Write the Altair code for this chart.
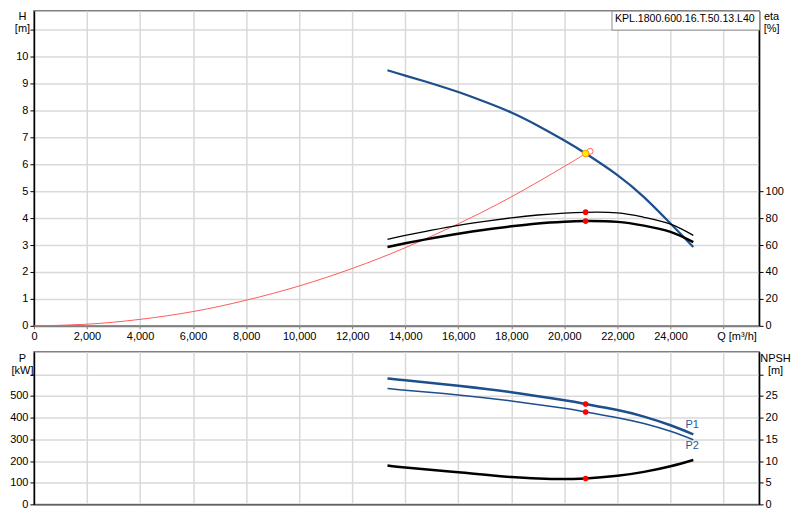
import altair as alt
import pandas as pd

MODEL = "KPL.1800.600.16.T.50.13.L40"

# ---- pump head curve H(Q)
q_h = [13330, 14000, 15000, 16000, 17000, 18000, 19000, 20000, 20800, 22000, 23000, 24000, 24860]
h_vals = [9.49, 9.29, 9.00, 8.68, 8.32, 7.92, 7.43, 6.88, 6.40, 5.60, 4.78, 3.80, 2.93]

# ---- system curve
q_sys = [0, 2000, 4000, 6000, 8000, 10000, 12000, 14000, 16000, 18000, 20000, 20800]
h_sys = [0, 0.06, 0.24, 0.53, 0.95, 1.48, 2.13, 2.90, 3.79, 4.79, 5.92, 6.40]

# ---- efficiency curves
q_eta = [13330, 14000, 15000, 16000, 17000, 18000, 19000, 20000, 20800, 22000, 23000, 24000, 24860]
eta_thin = [64.2, 67.1, 71.0, 74.6, 77.6, 80.2, 82.3, 83.7, 84.3, 83.9, 80.6, 75.5, 67.2]
eta_thick = [58.5, 61.3, 65.0, 68.4, 71.4, 73.9, 76.0, 77.3, 77.8, 77.2, 74.4, 69.8, 62.2]

# ---- power curves
q_p = [13330, 14000, 16000, 18000, 20000, 20800, 22000, 23000, 24000, 24860]
p1 = [581, 573, 547, 517, 480, 463, 435, 405, 365, 323]
p2 = [535, 527, 505, 477, 443, 426, 400, 373, 337, 298]

# ---- NPSH curve
q_npsh = [13330, 14000, 16000, 18000, 19500, 20800, 22000, 23000, 24000, 24860]
npsh = [8.97, 8.5, 7.4, 6.3, 5.85, 5.98, 6.6, 7.5, 8.8, 10.25]

# ---- duty point
q_duty = 20800
h_duty = 6.40
eta_duty = [84.4, 77.8]
p_duty = [463, 426]
npsh_duty = 5.98
q_open, h_open = 20970, 6.48

# ---- curve labels
lab_names = ["P1", "P2"]
lab_q = [24820, 24820]
lab_p = [366, 267]

x_ticks = list(range(0, 26001, 2000))
h_ticks = list(range(0, 12))
eta_ticks = [0, 20, 40, 60, 80, 100]
p_ticks = list(range(0, 601, 100))
npsh_ticks = list(range(0, 31, 5))

W = 727
H_TOP = 316
H_BOT = 153
Q_MAX = 27340
H_MAX = 11.704
ETA_MAX = 234.07
P_MAX = 704
NPSH_MAX = 35.2

FONT = "Liberation Sans"
BLUE = "#1c4f8c"
GRID = "#d9d9d9"
CURVE = "natural"

df_h = pd.DataFrame({"Q": q_h, "H": h_vals, "model": MODEL})
df_sys = pd.DataFrame({"Q": q_sys, "H": h_sys})
df_eta_thin = pd.DataFrame({"Q": q_eta, "eta": eta_thin})
df_eta_thick = pd.DataFrame({"Q": q_eta, "eta": eta_thick})
df_eta_dots = pd.DataFrame({"Q": [q_duty, q_duty], "eta": eta_duty})
df_duty_h = pd.DataFrame({"Q": [q_duty], "H": [h_duty]})
df_open = pd.DataFrame({"Q": [q_open], "H": [h_open]})
df_p1 = pd.DataFrame({"Q": q_p, "P": p1})
df_p2 = pd.DataFrame({"Q": q_p, "P": p2})
df_p_dots = pd.DataFrame({"Q": [q_duty, q_duty], "P": p_duty})
df_npsh = pd.DataFrame({"Q": q_npsh, "NPSH": npsh})
df_npsh_dot = pd.DataFrame({"Q": [q_duty], "NPSH": [npsh_duty]})
df_lab = pd.DataFrame({"Q": lab_q, "P": lab_p, "name": lab_names})

xscale = alt.Scale(domain=[0, Q_MAX], nice=False, zero=False)


def x_top():
    return alt.X("Q:Q", scale=xscale, axis=alt.Axis(
        values=x_ticks,
        labelExpr="datum.value > 25000 ? '' : format(datum.value, ',')",
        labelFlush=False, labelOverlap=False,
        title="Q [m³/h]", titleX=W * 26000 / Q_MAX + 13, titleY=5,
        titleAlign="center", titleBaseline="top",
        tickSize=3, labelPadding=2, domainColor="#808080", domainWidth=2,
        tickColor="#808080", grid=True, gridColor=GRID, gridWidth=1.5))


def x_bot():
    return alt.X("Q:Q", scale=xscale, axis=alt.Axis(
        values=x_ticks, labels=False, ticks=False, title=None,
        domainColor="#404040", domainWidth=1.5,
        grid=True, gridColor=GRID, gridWidth=1.5))


def y_axis(orient, values, title, tx, ty, hide_above=None, grid=True):
    expr = "datum.label" if hide_above is None else f"datum.value > {hide_above} ? '' : datum.label"
    return alt.Axis(
        orient=orient, values=values, labelExpr=expr,
        title=title, titleAngle=0, titleX=tx, titleY=ty,
        titleAlign="center", titleBaseline="top", titleLineHeight=12,
        tickSize=4, labelPadding=2, minExtent=0,
        domainColor="black", domainWidth=1.5, tickColor="black",
        grid=grid, gridColor=GRID, gridWidth=1.5)


def y_h():
    return alt.Y("H:Q", scale=alt.Scale(domain=[0, H_MAX], nice=False),
                 axis=y_axis("left", h_ticks, ["H", "[m]"], -12, 0, hide_above=10.5))


def y_eta():
    return alt.Y("eta:Q", scale=alt.Scale(domain=[0, ETA_MAX], nice=False),
                 axis=y_axis("right", eta_ticks, ["eta", "[%]"], 12, 0, grid=False))


def y_p():
    return alt.Y("P:Q", scale=alt.Scale(domain=[0, P_MAX], nice=False),
                 axis=y_axis("left", p_ticks, ["P", "[kW]"], -12, 1, hide_above=550))


def y_npsh():
    return alt.Y("NPSH:Q", scale=alt.Scale(domain=[0, NPSH_MAX], nice=False),
                 axis=y_axis("right", npsh_ticks, ["NPSH", "[m]"], 16, 1, hide_above=27, grid=False))


# ---------------- top panel
# model name box: a legend whose title carries the pump name
h_line = alt.Chart(df_h).mark_line(strokeWidth=2.2, interpolate=CURVE).encode(
    x=x_top(), y=y_h(),
    color=alt.Color("model:N", scale=alt.Scale(domain=[MODEL], range=[BLUE]),
                    legend=alt.Legend(orient="top-right", offset=0, padding=3.5,
                                      fillColor="white", strokeColor="#8c8c8c",
                                      title=MODEL, titleFontSize=10.6, titleFontWeight="normal",
                                      titleColor="black", titleFont=FONT, titlePadding=0,
                                      titleLimit=0, titleAnchor="start",
                                      symbolType="circle", symbolSize=0.01, symbolOpacity=0,
                                      symbolStrokeWidth=0, labelOffset=0, clipHeight=1,
                                      labelFontSize=1, labelExpr="''",
                                      labelColor="white", labelLimit=0)))
sys_line = alt.Chart(df_sys).mark_line(strokeWidth=1, color="#ff5a5a", interpolate=CURVE).encode(
    x=x_top(), y=y_h())
open_pt = alt.Chart(df_open).mark_point(shape="circle", filled=False, stroke="#ff6666",
                                        strokeWidth=1, size=35, opacity=1).encode(x=x_top(), y=y_h())
duty_pt = alt.Chart(df_duty_h).mark_point(shape="circle", filled=True, fill="#ffee00",
                                          stroke="#ff9900", strokeWidth=1, size=45,
                                          opacity=1).encode(x=x_top(), y=y_h())
left_top = alt.layer(sys_line, h_line, open_pt, duty_pt)

eta_thin_line = alt.Chart(df_eta_thin).mark_line(strokeWidth=1.3, color="black",
                                                 interpolate=CURVE).encode(x=x_top(), y=y_eta())
eta_thick_line = alt.Chart(df_eta_thick).mark_line(strokeWidth=2.5, color="black",
                                                   interpolate=CURVE).encode(x=x_top(), y=y_eta())
eta_dots = alt.Chart(df_eta_dots).mark_circle(size=32, color="#ff0000", opacity=1).encode(
    x=x_top(), y=y_eta())
right_top = alt.layer(eta_thin_line, eta_thick_line, eta_dots)

top = alt.layer(left_top, right_top).resolve_scale(y="independent").properties(
    width=W, height=H_TOP)

# ---------------- bottom panel
p1_line = alt.Chart(df_p1).mark_line(strokeWidth=2.5, color=BLUE, interpolate=CURVE).encode(
    x=x_bot(), y=y_p())
p2_line = alt.Chart(df_p2).mark_line(strokeWidth=1.5, color=BLUE, interpolate=CURVE).encode(
    x=x_bot(), y=y_p())
p_dots = alt.Chart(df_p_dots).mark_circle(size=32, color="#ff0000", opacity=1).encode(
    x=x_bot(), y=y_p())
p_labels = alt.Chart(df_lab).mark_text(fontSize=11, font=FONT, color="#2a5a9a",
                                       align="center", baseline="middle").encode(
    x=x_bot(), y=y_p(), text="name:N")
left_bot = alt.layer(p1_line, p2_line, p_dots, p_labels)

npsh_line = alt.Chart(df_npsh).mark_line(strokeWidth=2.5, color="black",
                                         interpolate=CURVE).encode(x=x_bot(), y=y_npsh())
npsh_dot = alt.Chart(df_npsh_dot).mark_circle(size=32, color="#ff0000", opacity=1).encode(
    x=x_bot(), y=y_npsh())
right_bot = alt.layer(npsh_line, npsh_dot)

bottom = alt.layer(left_bot, right_bot).resolve_scale(y="independent").properties(
    width=W, height=H_BOT)

chart = alt.vconcat(top, bottom, spacing=26, bounds="flush").resolve_scale(
    x="independent", y="independent", color="independent"
).properties(padding=0, background="white").configure(font=FONT).configure_view(
    stroke="#808080", strokeWidth=1.5
).configure_axis(
    labelFont=FONT, titleFont=FONT, labelFontSize=11, titleFontSize=11,
    titleFontWeight="normal", labelColor="black", titleColor="black"
)

chart.save("out.html", embed_options={"renderer": "svg", "actions": False})
